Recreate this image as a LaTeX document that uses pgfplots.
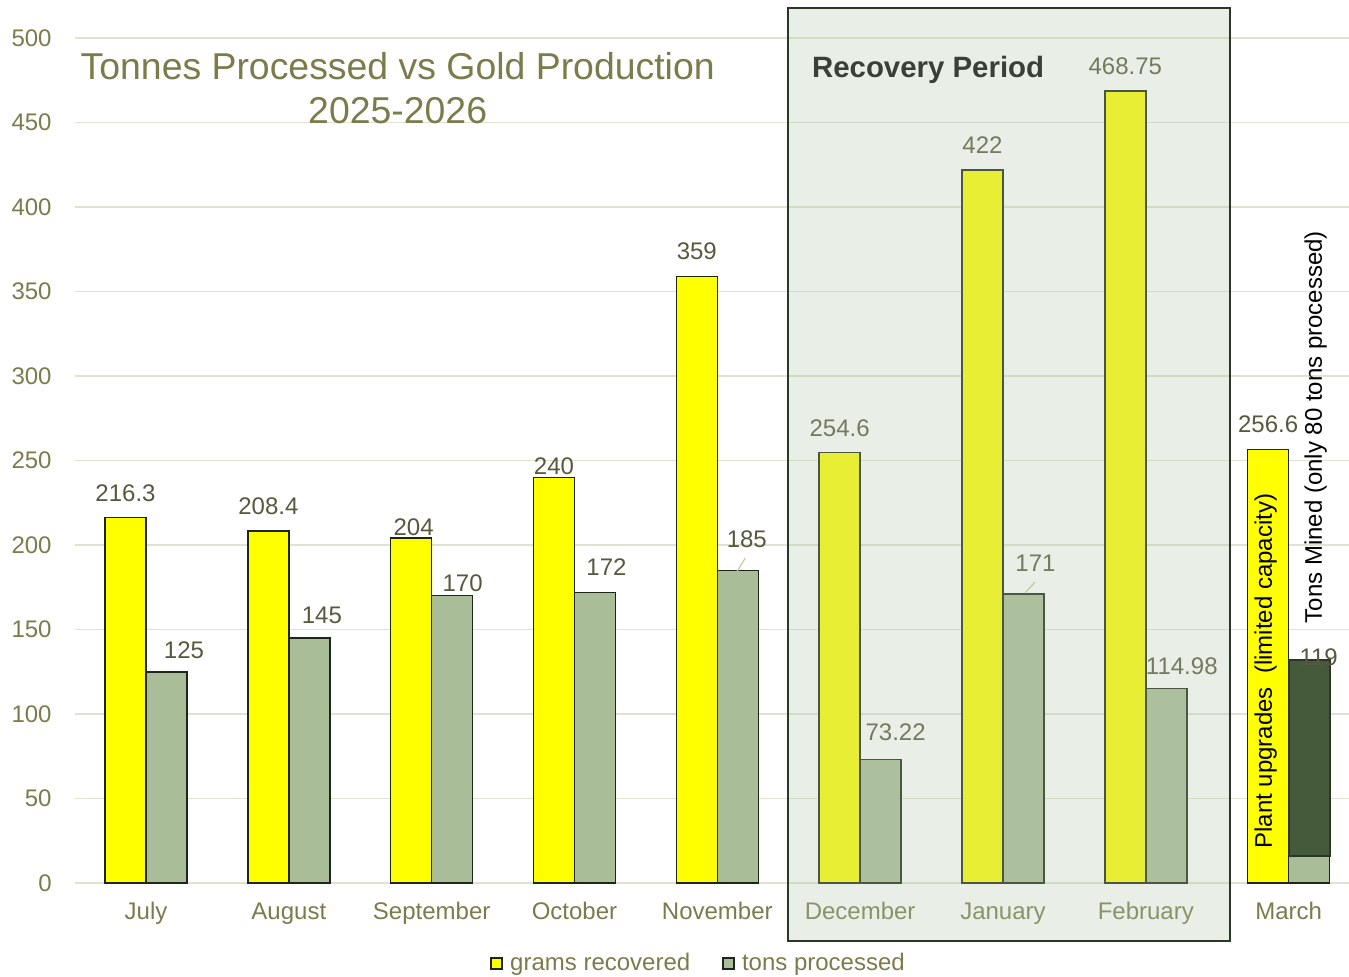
\documentclass[border=0pt]{standalone}
\usepackage{pgfplots}
\pgfplotsset{compat=1.18}
\usepackage{pgfplotstable}
\usepackage{fontspec}
\setmainfont{Liberation Sans}
\definecolor{barY}{HTML}{FFFF00}
\definecolor{barG}{HTML}{A9BD98}
\definecolor{barDk}{HTML}{455A3B}
\definecolor{edge}{HTML}{1E2619}
\definecolor{gridc}{HTML}{E0E3CF}
\definecolor{olive}{HTML}{7B7B4C}
\definecolor{labc}{HTML}{58583F}
\definecolor{ovl}{RGB}{182,199,172}
\definecolor{boxedge}{HTML}{2B3627}
\definecolor{leader}{HTML}{C9C9A8}
\definecolor{rptext}{HTML}{3A4035}

% dx includes the half-bar shift (10.25pt)
\pgfplotstableread{
x y lab dx dy
0 216.3 216.3 -10.25 7.75
1 208.4 208.4 -10.25 8.25
2 204 204 -9.0 1.25
3 240 240 -10.25 1.25
4 359 359 -10.25 8.25
5 254.6 254.6 -10.25 8.25
6 422 422 -10.25 8.25
7 468.75 468.75 -10.25 8.25
8 256.6 256.6 -10.25 8.25
}\grams

\pgfplotstableread{
x y lab dx dy
0 125 125 19.0 6.75
1 145 145 16.5 7.25
2 170 170 15.5 2.25
3 172 172 16.0 8.25
4 185 185 14.75 11.25
5 73.22 73.22 17.75 9.25
6 171 171 16.25 11.25
7 114.98 114.98 18.0 7.25
8 119 119 15.0 8.25
}\tons

\pgfplotsset{
  lbl/.style={
    nodes near coords,
    point meta=explicit symbolic,
    visualization depends on={\thisrow{dx} \as \dx},
    visualization depends on={\thisrow{dy} \as \dy},
    nodes near coords style={font=\fontsize{12}{14}\selectfont, text=labc, anchor=base, inner sep=0pt, xshift=\dx pt, yshift=\dy pt},
  }
}

\begin{document}
\begin{tikzpicture}
\useasboundingbox (0,0) rectangle (674.5pt,488pt);
\begin{axis}[
  scale only axis,
  width=637pt, height=422.5pt,
  at={(37.3pt,46.5pt)}, anchor=south west,
  xmin=-0.5, xmax=8.42,
  ymin=0, ymax=500,
  clip=false,
  axis line style={draw=none},
  major tick length=0pt,
  ytick={0,50,...,500},
  ymajorgrids,
  major grid style={gridc, line width=0.8pt},
  xtick={0,...,8},
  xticklabels={July,August,September,October,November,December,January,February,March},
  /pgf/number format/assume math mode=true,
  yticklabel style={font=\fontsize{12}{14}\selectfont, text=olive, anchor=east, inner sep=0pt, xshift=-11.3pt},
  xticklabel style={font=\fontsize{12}{14}\selectfont, text=olive, anchor=base, inner sep=0pt, yshift=-18pt},
  legend style={at={(0.4906,-0.0947)}, anchor=center, draw=none, fill=none,
    font=\fontsize{12}{14}\selectfont, text=olive, legend columns=2,
    /tikz/every even column/.append style={column sep=14pt},
    inner sep=0pt},
  legend image code/.code={\draw[#1, line width=1pt] (0pt,-2.75pt) rectangle (5.5pt,2.75pt); \path (7pt,0pt);},
]
\addplot[ybar, bar width=0.287, bar shift=-0.1435, fill=barY, draw=edge, line width=0.75pt, lbl]
  table[x=x, y=y, meta=lab] {\grams};
\addlegendentry{grams recovered}
\addplot[ybar, bar width=0.287, bar shift=0.1435, fill=barG, draw=edge, line width=0.75pt, lbl]
  table[x=x, y=y, meta=lab] {\tons};
\addlegendentry{tons processed}
\addplot[fill=barDk, draw=boxedge, line width=1pt, forget plot]
  coordinates {(8.0,16) (8.287,16) (8.287,132) (8.0,132) (8.0,16)};
\draw[leader, line width=0.6pt] (axis cs:4.196,192.3) -- (axis cs:4.14,184.6);
\draw[leader, line width=0.6pt] (axis cs:6.224,178.1) -- (axis cs:6.154,171.6);
\node[font=\fontsize{18.7}{22}\selectfont, text=olive, align=center] at (axis cs:1.762,470.4)
  {Tonnes Processed vs Gold Production\\2025-2026};
\node[rotate=90, font=\fontsize{12}{14}\selectfont, text=black] at (axis cs:7.839,125.4)
  {Plant upgrades\ \ (limited capacity)};
\node[rotate=90, font=\fontsize{12}{14}\selectfont, text=black] at (axis cs:8.189,269.8)
  {Tons Mined (only 80 tons processed)};
\coordinate (bA) at (axis cs:4.497,-34.3);
\coordinate (bB) at (axis cs:7.587,517.8);
\coordinate (rp) at (axis cs:5.476,481.0);
\end{axis}
\fill[ovl, fill opacity=0.3] (bA) rectangle (bB);
\draw[boxedge, line width=1.1pt] (bA) rectangle (bB);
\node[font=\fontsize{14.7}{17}\selectfont\bfseries, text=rptext] at (rp) {Recovery Period};
\end{tikzpicture}
\end{document}
